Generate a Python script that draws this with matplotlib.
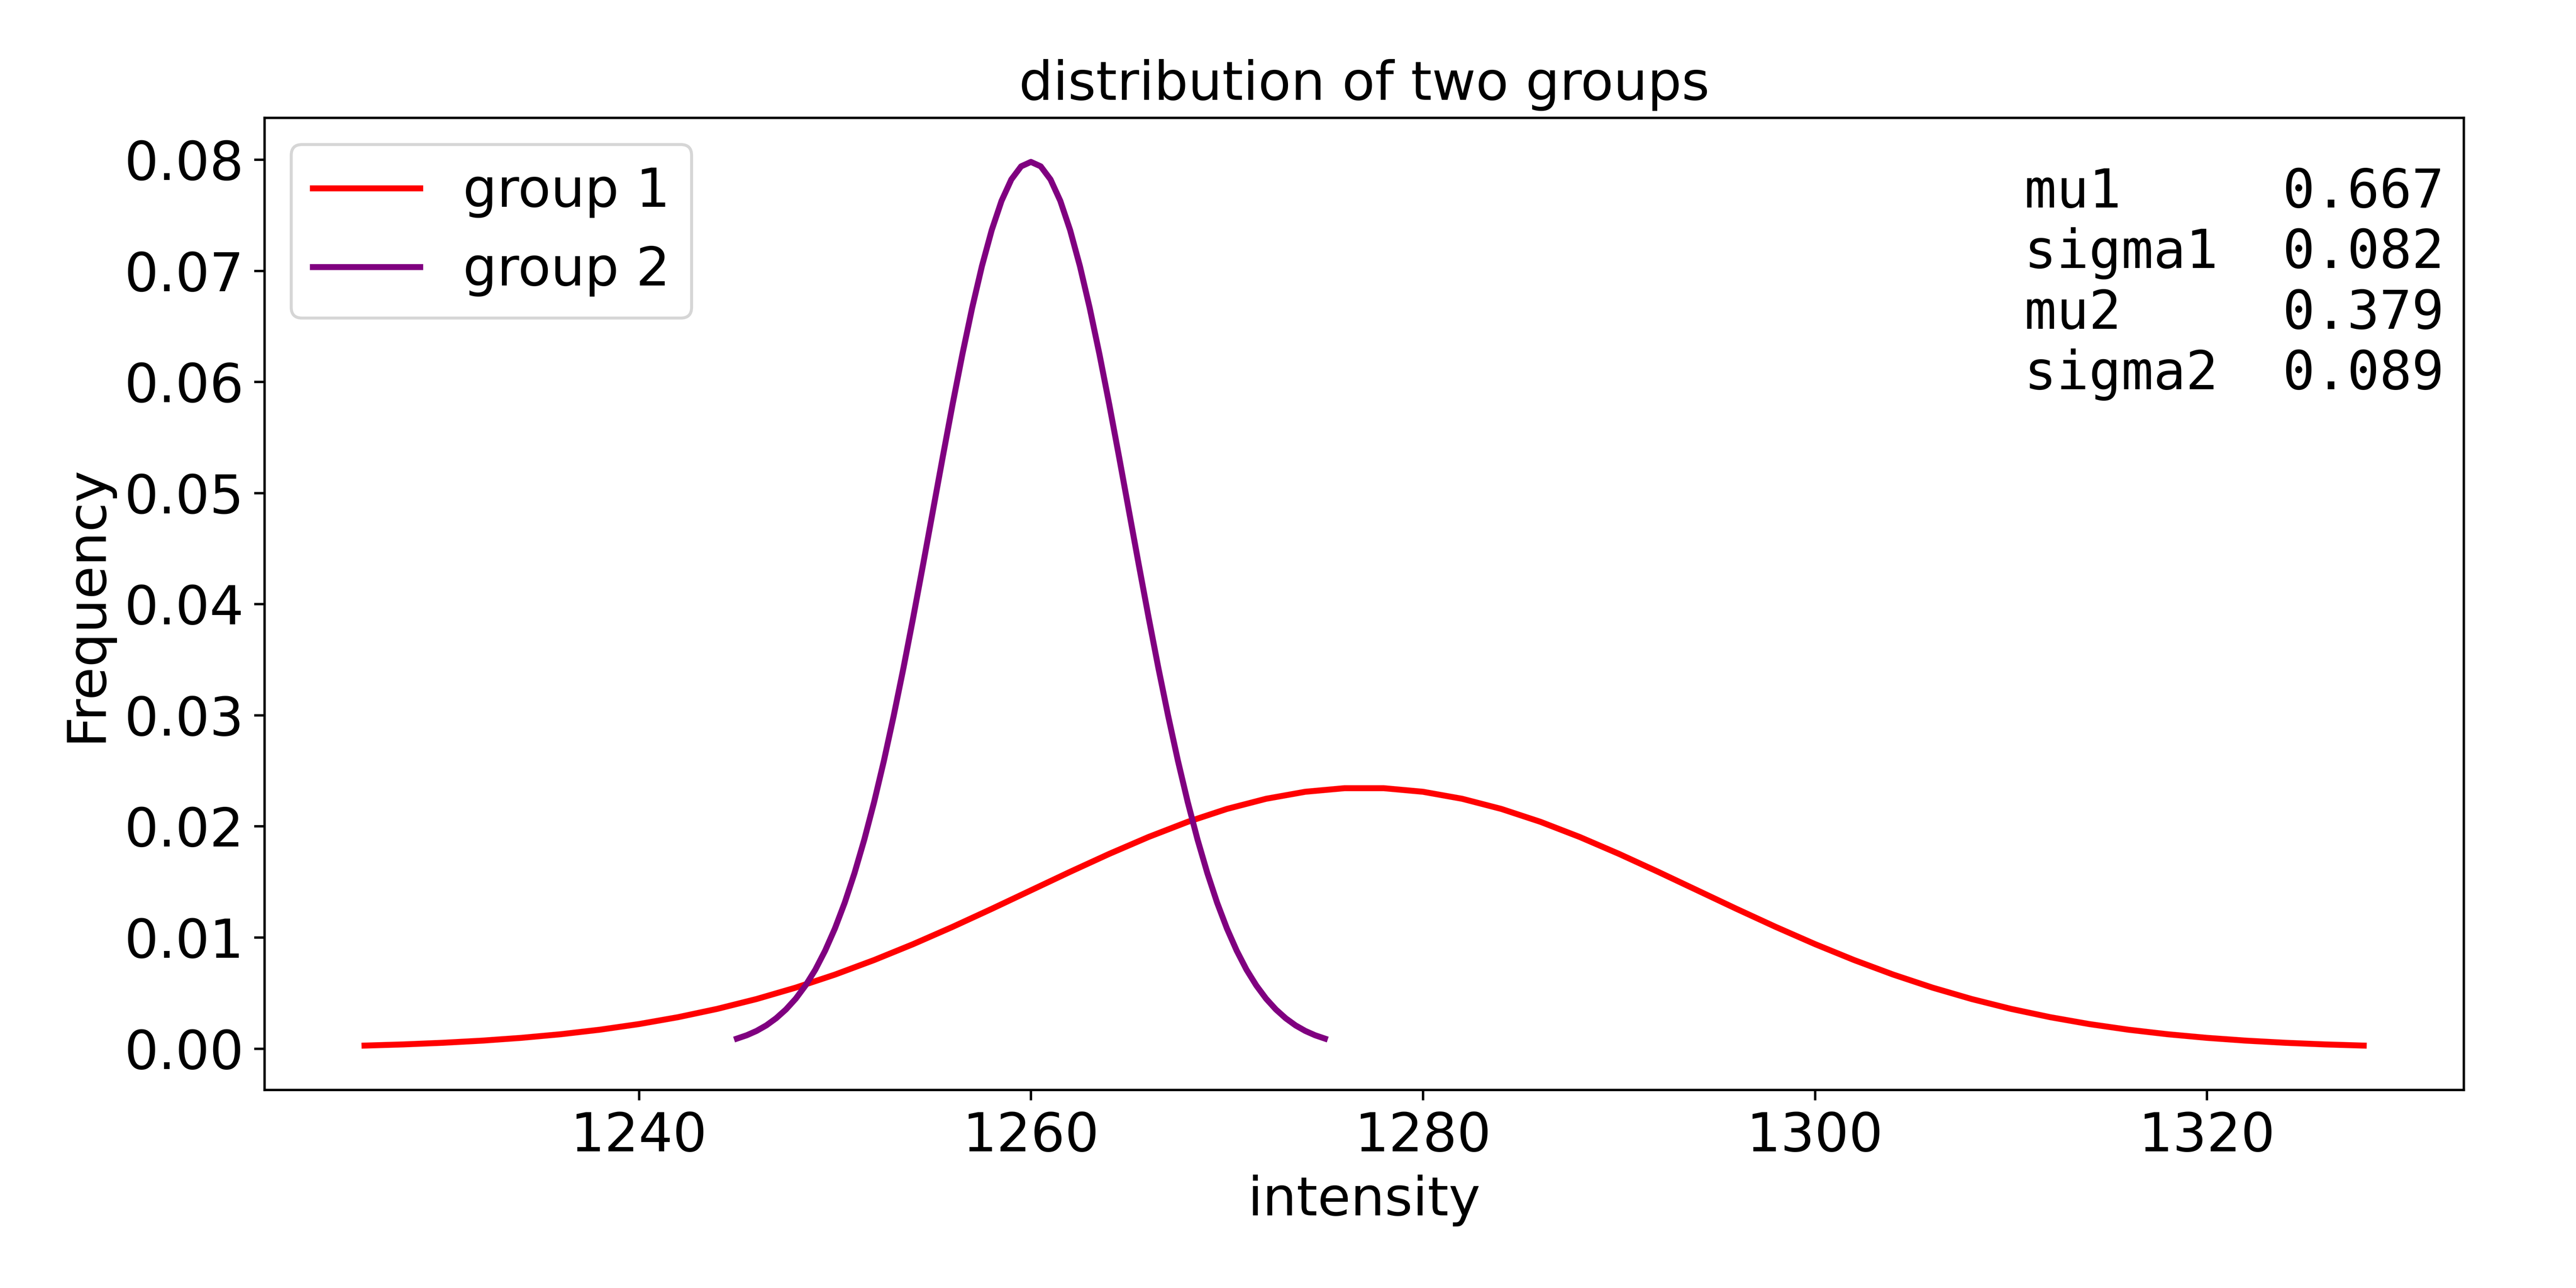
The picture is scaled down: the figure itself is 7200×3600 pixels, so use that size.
import matplotlib
matplotlib.use("Agg")
import matplotlib.pyplot as plt
import numpy as np

plt.rcParams['font.size'] = 18

# curve values
group1_x = np.arange(1226, 1329, 2)
group1_y = [0.000261, 0.000368, 0.000514, 0.000706, 0.000958, 0.001281,
            0.001689, 0.002197, 0.002819, 0.003567, 0.004450, 0.005477,
            0.006648, 0.007959, 0.009397, 0.010942, 0.012566, 0.014233,
            0.015900, 0.017517, 0.019034, 0.020398, 0.021560, 0.022474,
            0.023105, 0.023426,
            0.023426, 0.023105, 0.022474, 0.021560, 0.020398, 0.019034,
            0.017517, 0.015900, 0.014233, 0.012566, 0.010942, 0.009397,
            0.007959, 0.006648, 0.005477, 0.004450, 0.003567, 0.002819,
            0.002197, 0.001689, 0.001281, 0.000958, 0.000706, 0.000514,
            0.000368, 0.000261]

group2_x = np.arange(1245, 1275.01, 0.5)
group2_y = [0.00089, 0.00119, 0.00158, 0.00208, 0.00272, 0.00351, 0.00448,
            0.00567, 0.00709, 0.00880, 0.01080, 0.01312, 0.01579, 0.01881,
            0.02218, 0.02590, 0.02995, 0.03427, 0.03884, 0.04357, 0.04839,
            0.05322, 0.05794, 0.06245, 0.06664, 0.07041, 0.07365, 0.07628,
            0.07821, 0.07939, 0.07979,
            0.07939, 0.07821, 0.07628, 0.07365, 0.07041, 0.06664, 0.06245,
            0.05794, 0.05322, 0.04839, 0.04357, 0.03884, 0.03427, 0.02995,
            0.02590, 0.02218, 0.01881, 0.01579, 0.01312, 0.01080, 0.00880,
            0.00709, 0.00567, 0.00448, 0.00351, 0.00272, 0.00208, 0.00158,
            0.00119, 0.00089]

stat_names = ['mu1', 'sigma1', 'mu2', 'sigma2']
stat_values = [0.667, 0.082, 0.379, 0.089]

fig = plt.figure(figsize=(12, 6))
ax = fig.add_subplot(111)
fig.subplots_adjust(left=0.1027, right=0.9564, bottom=0.1539, top=0.9086)

ax.plot(group1_x, group1_y, color='red', lw=2, label='group 1')
ax.plot(group2_x, group2_y, color='purple', lw=2, label='group 2')

stats_text = "\n".join(f"{n:<8}{v:.3f}" for n, v in zip(stat_names, stat_values))
ax.text(0.991, 0.95, stats_text, transform=ax.transAxes, ha='right', va='top',
        family='DejaVu Sans Mono', fontsize=18)

ax.set_title('distribution of two groups', fontsize=18)
ax.set_xlabel('intensity')
ax.set_ylabel('Frequency')
ax.legend(loc='upper left')

plt.savefig("out.png", dpi=600)
